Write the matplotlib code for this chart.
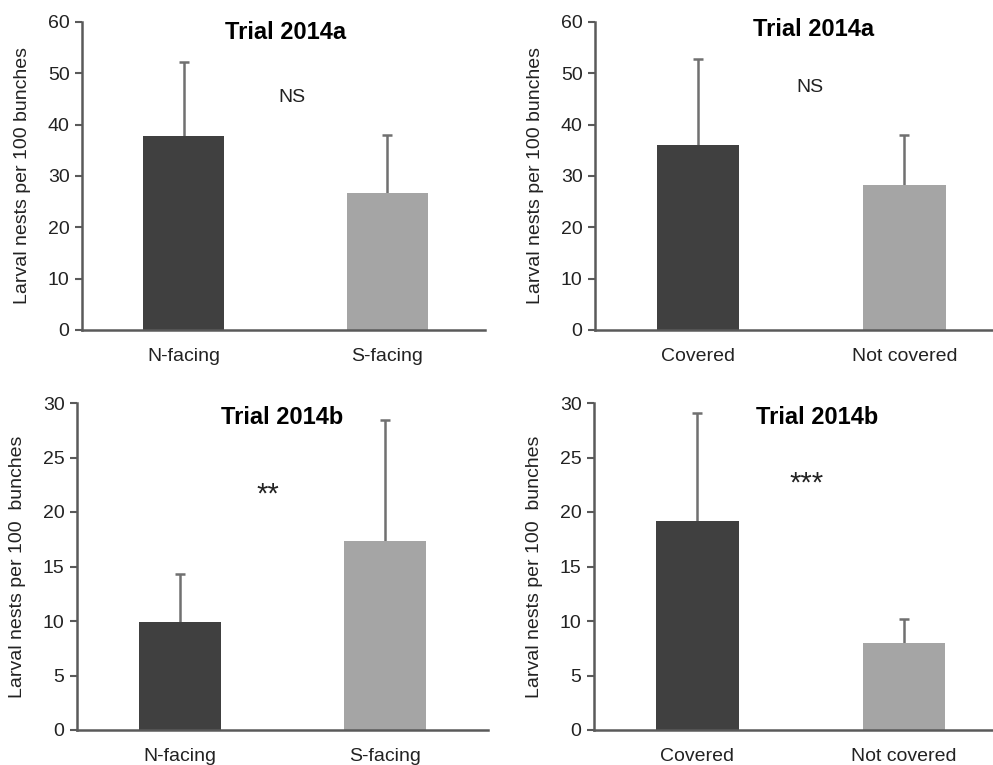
import numpy as np
import matplotlib
matplotlib.use('Agg')
import matplotlib.pyplot as plt

plt.rcParams['font.family'] = ['Liberation Sans', 'DejaVu Sans']

# 데이터
cat_face = ['N-facing', 'S-facing']
cat_cover = ['Covered', 'Not covered']
a_face = [37.7, 26.6]
a_face_err = [14.6, 11.4]
a_cover = [36.0, 28.3]
a_cover_err = [16.8, 9.7]
b_face = [9.9, 17.3]
b_face_err = [4.4, 11.1]
b_cover = [19.2, 8.0]
b_cover_err = [9.9, 2.2]

titles = ['Trial 2014a', 'Trial 2014a', 'Trial 2014b', 'Trial 2014b']
marks = ['NS', 'NS', '**', '***']
ylabels = ['Larval nests per 100 bunches', 'Larval nests per 100 bunches',
           'Larval nests per 100  bunches', 'Larval nests per 100  bunches']

colors = ['#404040', '#a5a5a5']
spine_c = '#5a5a5a'
err_c = '#707070'

W, H = 993, 765
fig = plt.figure(figsize=(W / 100, H / 100), dpi=100)

# (left, right, top, bottom) in pixels
boxes = [(82, 485, 22, 330), (595, 993, 22, 330),
         (77, 488, 403, 730), (594, 993, 403, 730)]
panels = [(cat_face, a_face, a_face_err, 60, 10),
          (cat_cover, a_cover, a_cover_err, 60, 10),
          (cat_face, b_face, b_face_err, 30, 5),
          (cat_cover, b_cover, b_cover_err, 30, 5)]
title_pos = [(0.5, 57.9), (0.56, 58.6), (0.5, 28.7), (0.58, 28.7)]
mark_pos = [(0.53, 45.2), (0.54, 47.2), (0.43, 21.6), (0.53, 22.6)]
xright = [1.48, 1.43, 1.5, 1.43]

for i in range(4):
    l, r, t, b = boxes[i]
    ax = fig.add_axes([l / W, (H - b) / H, (r - l) / W, (b - t) / H])
    cats, vals, errs, ymax, step = panels[i]
    x = np.arange(len(cats))
    vals = np.array(vals)
    errs = np.array(errs)
    ax.bar(x, vals, width=0.4, color=colors, zorder=2)
    # 위쪽 오차막대만
    ax.vlines(x, vals, vals + errs, color=err_c, linewidth=1.8, zorder=1)
    ax.plot(x, vals + errs, linestyle='none', marker='_', markersize=7,
            markeredgewidth=1.8, color=err_c, zorder=1)
    ax.set_xlim(-0.5, xright[i])
    ax.set_ylim(0, ymax)
    ax.set_yticks(np.arange(0, ymax + 1, step))
    ax.set_xticks(x)
    ax.set_xticklabels(cats, fontsize=14, color='#222222')
    ax.tick_params(axis='x', length=0, pad=13)
    ax.tick_params(axis='y', length=5, width=1.5, color=spine_c, labelsize=14,
                   labelcolor='#222222', pad=4)
    for s in ['top', 'right']:
        ax.spines[s].set_visible(False)
    for s in ['left', 'bottom']:
        ax.spines[s].set_color(spine_c)
        ax.spines[s].set_linewidth(1.8)
    ax.set_ylabel(ylabels[i], fontsize=14, color='#222222', labelpad=12)
    tx, ty = title_pos[i]
    ax.text(tx, ty, titles[i], fontsize=17, fontweight='bold', ha='center', va='center')
    mx, my = mark_pos[i]
    ax.text(mx, my, marks[i], fontsize=21 if '*' in marks[i] else 14,
            ha='center', va='center', color='#222222')

fig.savefig('out.png', dpi=100)
